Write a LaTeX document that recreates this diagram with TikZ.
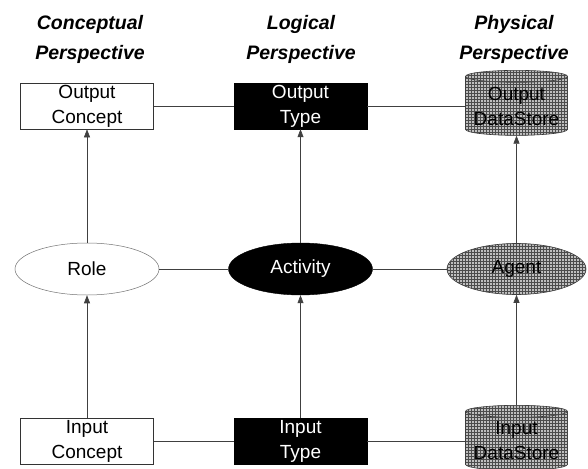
\documentclass[tikz,border=0pt]{standalone}
\usepackage{fontspec}
\setmainfont{Liberation Sans}
\usetikzlibrary{shapes.geometric,arrows.meta,patterns}

\tikzset{
  title/.style={inner sep=0pt, align=center, font=\fontsize{19.5}{30}\selectfont\bfseries\itshape},
  boxtext/.style={inner sep=0pt, align=center, font=\fontsize{19}{25}\selectfont},
  conceptbox/.style={boxtext, draw=black!80, line width=0.6pt, fill=white, minimum width=133pt, minimum height=46pt},
  typebox/.style={boxtext, draw=black, fill=black, text=white, minimum width=133pt, minimum height=46pt},
  roleshape/.style={boxtext, ellipse, draw=black!55, line width=0.5pt, fill=white, minimum width=144pt, minimum height=52pt},
  activityshape/.style={boxtext, ellipse, draw=black, fill=black, text=white, minimum width=144pt, minimum height=52pt},
  hatched/.style={fill=gray!50, postaction={pattern=grid, pattern color=black!70}},
  agentshape/.style={boxtext, ellipse, draw=black!80, line width=0.6pt, hatched, minimum width=139pt, minimum height=51pt},
  storeshape/.style={boxtext, cylinder, shape border rotate=90, aspect=0.14, draw=black!80, line width=0.6pt, hatched, minimum width=102pt, minimum height=65pt},
  link/.style={draw=black!75, line width=0.6pt},
  flow/.style={link, -{Triangle[length=8pt,width=6pt]}}
}

\begin{document}
\begin{tikzpicture}[x=1pt,y=-1pt]
    \useasboundingbox (0,0) rectangle (588,468);

    % column headings
    \node[title, anchor=north] (hconc) at (90,15) {Conceptual\\Perspective};
    \node[title, anchor=north] (hlog) at (301,15) {Logical\\Perspective};
    \node[title, anchor=north] (hphys) at (514,15) {Physical\\Perspective};

    % output row
    \node[conceptbox] (oc) at (87,106) {Output\\Concept};
    \node[typebox] (ot) at (300.5,106) {Output\\Type};
    \node[storeshape] (ods) at (516.5,106) {Output\\DataStore};

    % middle row
    \node[roleshape] (role) at (87,269) {Role};
    \node[activityshape] (act) at (300.5,269) {Activity};
    \node[agentshape] (agent) at (516.5,269) {Agent};

    % input row
    \node[conceptbox] (ic) at (87,441) {Input\\Concept};
    \node[typebox] (it) at (300.5,441) {Input\\Type};
    \node[storeshape] (ids) at (516.5,441) {Input\\DataStore};

    % horizontal links
    \draw[link] (oc) -- (ot) -- (ods);
    \draw[link] (role) -- (act) -- (agent);
    \draw[link] (ic) -- (it) -- (ids);

    % upward flows
    \draw[flow] (ic) -- (role);
    \draw[flow] (role) -- (oc);
    \draw[flow] (it) -- (act);
    \draw[flow] (act) -- (ot);
    \draw[flow] (ids) -- (agent);
    \draw[flow] (agent) -- (ods);
\end{tikzpicture}
\end{document}
